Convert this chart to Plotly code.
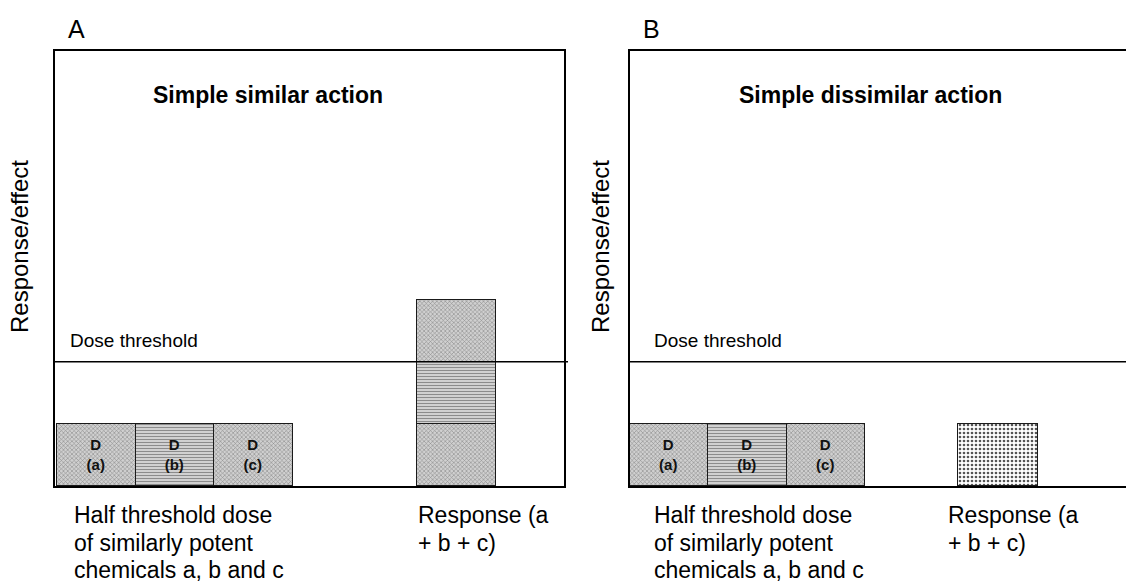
import plotly.graph_objects as go

# ---------------- data ----------------
chemicals = ["a", "b", "c"]
half_threshold_dose = [1, 1, 1]          # each chemical at half the threshold dose
dose_threshold = 2                       # response threshold
response_dissimilar = [1]                # panel B: response of mixture (no additivity)
bar_labels = [f"<b>D<br>({c})</b>" for c in chemicals]

panel_letters = ["A", "B"]
panel_titles = ["Simple similar action", "Simple dissimilar action"]
y_label = "Response/effect"
threshold_label = "Dose threshold"
dose_label_lines = ["Half threshold dose", "of similarly potent", "chemicals a, b and c"]
response_label_lines = ["Response (a", "+ b + c)"]

# ---------------- layout constants ----------------
W, H = 1126, 586
FONT = "Arial, 'Liberation Sans', sans-serif"

def px(x):
    return x / W

def py(y):
    return 1 - y / H

A_DOM = [px(55), px(564)]
B_DOM = [px(630), 1.0]
Y_DOM = [py(486), py(51)]
A_RANGE = [0, 6.48]
B_RANGE = [0, 6.32]
A_RESP_SLOT = 5.11
B_RESP_SLOT = 4.69
A_OFFSET = 0.03

hatch = dict(shape="x", size=3, solidity=0.35, fgcolor="#8a8a8a", bgcolor="#d0d0d0", fillmode="replace")
lines = dict(shape="-", size=3, solidity=0.45, fgcolor="#8c8c8c", bgcolor="#e0e0e0", fillmode="replace")
dots = dict(shape=".", size=4, solidity=0.35, fgcolor="#555555", bgcolor="#ffffff", fillmode="replace")
chem_patterns = [hatch, lines, hatch]
outline = dict(color="#1a1a1a", width=1.5)

fig = go.Figure()

# Panel A: individual doses + stacked additive response
for i, (c, v) in enumerate(zip(chemicals, half_threshold_dose)):
    fig.add_trace(go.Bar(
        x=[i + 0.5 + A_OFFSET, A_RESP_SLOT], y=[v, v],
        width=[1, 1],
        text=[bar_labels[i], ""], textposition="inside", insidetextanchor="middle",
        textfont=dict(family=FONT, size=15, color="#111"),
        marker=dict(color=chem_patterns[i]["bgcolor"], pattern=chem_patterns[i], line=outline),
        xaxis="x", yaxis="y", showlegend=False, hoverinfo="skip", name=c,
    ))

# Panel B: individual doses + single non-additive response
for i, (c, v) in enumerate(zip(chemicals, half_threshold_dose)):
    fig.add_trace(go.Bar(
        x=[i + 0.5], y=[v], width=[1],
        text=[bar_labels[i]], textposition="inside", insidetextanchor="middle",
        textfont=dict(family=FONT, size=15, color="#111"),
        marker=dict(color=chem_patterns[i]["bgcolor"], pattern=chem_patterns[i], line=outline),
        xaxis="x2", yaxis="y2", showlegend=False, hoverinfo="skip", name=c,
    ))
fig.add_trace(go.Bar(
    x=[B_RESP_SLOT], y=response_dissimilar, width=[1.03],
    marker=dict(color="#ffffff", pattern=dots, line=outline),
    xaxis="x2", yaxis="y2", showlegend=False, hoverinfo="skip", name="response",
))

ax_common = dict(showgrid=False, zeroline=False, showticklabels=False, ticks="",
                 showline=True, linecolor="#000", linewidth=2, fixedrange=True)

fig.update_layout(
    width=W, height=H,
    margin=dict(l=0, r=0, t=0, b=0),
    paper_bgcolor="white", plot_bgcolor="white",
    barmode="stack", bargap=0,
    font=dict(family=FONT, color="#000"),
    xaxis=dict(domain=A_DOM, range=A_RANGE, mirror=True, anchor="y", **ax_common),
    yaxis=dict(domain=Y_DOM, range=[0, 7], mirror=True, anchor="x", **ax_common),
    xaxis2=dict(domain=B_DOM, range=B_RANGE, mirror=True, anchor="y2", **ax_common),
    yaxis2=dict(domain=Y_DOM, range=[0, 7], mirror=False, anchor="x2", **ax_common),
)

# threshold lines
fig.add_shape(type="line", xref="paper", yref="y", x0=px(55), x1=px(568),
              y0=dose_threshold, y1=dose_threshold, line=dict(color="#000", width=1.5))
fig.add_shape(type="line", xref="paper", yref="y2", x0=px(630), x1=1.0,
              y0=dose_threshold, y1=dose_threshold, line=dict(color="#000", width=1.5))

LINE_GAP = 27.5
# per panel: (frame left, y-label x, threshold text x, bottom text x, response text x)
panel_pos = [(55, 20, 68, 72, 416), (630, 601, 652, 652, 946)]
ann = []
for k, ((x0, ylx, thx, btx, rx), letter, title) in enumerate(zip(panel_pos, panel_letters, panel_titles)):
    ann.append(dict(text=letter, x=px(x0 + 11), y=py(29), xanchor="left", yanchor="middle",
                    font=dict(size=25)))
    ann.append(dict(text=f"<b>{title}</b>", x=px(x0 + 213 + (27 if k else 0)), y=py(95),
                    xanchor="center", yanchor="middle", font=dict(size=23)))
    ann.append(dict(text=y_label, x=px(ylx), y=py(247), textangle=-90,
                    xanchor="center", yanchor="middle", font=dict(size=24)))
    ann.append(dict(text=threshold_label, x=px(thx), y=py(340), xanchor="left",
                    yanchor="middle", font=dict(size=19)))
    for j, t in enumerate(dose_label_lines):
        ann.append(dict(text=t, x=px(btx), y=py(515 + j * LINE_GAP), xanchor="left",
                        yanchor="middle", font=dict(size=23)))
    for j, t in enumerate(response_label_lines):
        ann.append(dict(text=t, x=px(rx), y=py(515 + j * LINE_GAP),
                        xanchor="left", yanchor="middle", font=dict(size=23)))
for a in ann:
    a.update(xref="paper", yref="paper", showarrow=False)
fig.update_layout(annotations=ann)

fig.write_html("out.html", config={"displayModeBar": False},
               post_script="document.body.style.margin='0';document.body.style.overflow='hidden';")
